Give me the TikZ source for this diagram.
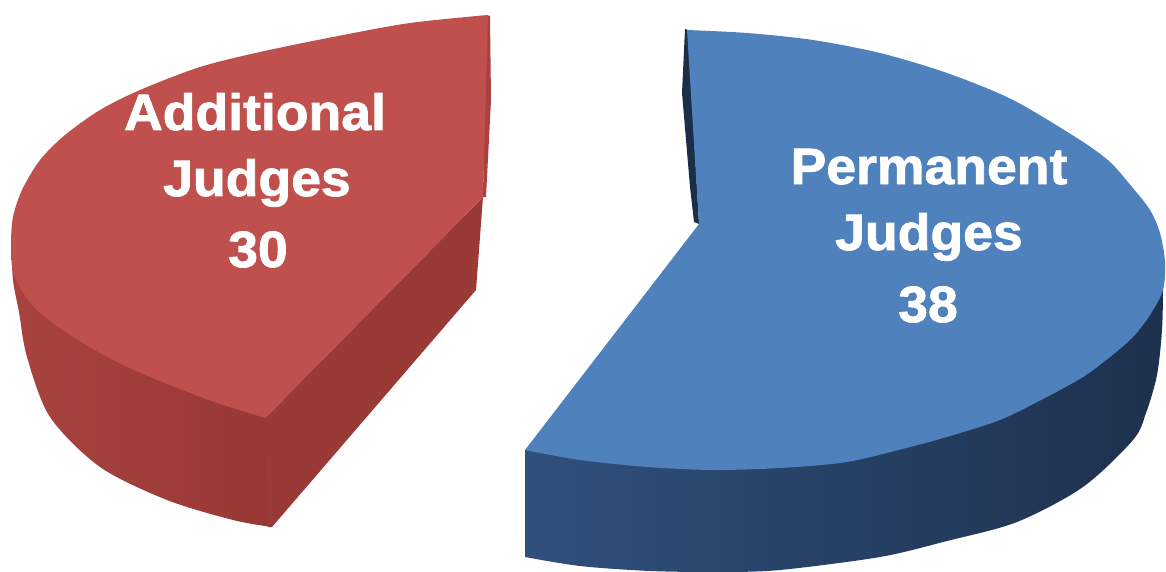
\documentclass[tikz,border=0pt]{standalone}
\usepackage{fontspec}
\setmainfont{Liberation Sans}
\newfontfamily\lblfont[BoldFeatures={FakeBold=1.6}]{Liberation Sans}
\definecolor{redtopc}{HTML}{C0504D}
\definecolor{redwallL}{HTML}{A8433F}
\definecolor{redwallR}{HTML}{973835}
\definecolor{redside}{HTML}{9A3A37}
\definecolor{redstrip}{HTML}{A9423F}
\definecolor{bluetopc}{HTML}{4F81BD}
\definecolor{bluewallL}{HTML}{30507C}
\definecolor{bluewallR}{HTML}{1D314D}
\definecolor{bluestrip}{HTML}{1B2E48}
\newcommand\lbltxt[1]{\scalebox{1.05}[1]{#1}}
\begin{document}
\begin{tikzpicture}[x=1pt,y=-1pt,
  redtop/.style={fill=redtopc},
  redwall/.style={left color=redwallL,right color=redwallR},
  redrad/.style={fill=redside},
  bluetop/.style={fill=bluetopc},
  bluewall/.style={left color=bluewallL,right color=bluewallR},
  lbl/.style={text=white,anchor=base,inner sep=0pt,font=\fontsize{51}{60}\lblfont\bfseries}]
\useasboundingbox (0,0) rectangle (1166,572);

% ---------- red slice ----------
\path[redwall] (11,240) -- (267,418) -- (272,527)
  -- plot[smooth] coordinates {(272,527) (233,520) (167,500) (100,467) (50,417) (27,357) (19,312) (13,280) (11,240)} -- cycle;
\path[redrad] (264,419) -- (483,197) -- (476,290) -- (272,527) -- (268,527) -- cycle;
\path[fill=redstrip] (486,15) -- (490,16) -- (491,100) -- (486,197) -- (483,197) -- cycle;
\path[redtop] plot[smooth] coordinates {(488,15) (410,23) (333,37) (260,52) (200,67) (140,90) (100,110) (65,135) (40,160) (22,190) (13,217) (11,245) (13,272) (22,291) (35,308) (57,326) (83,343) (115,361) (150,377) (185,391) (217,403) (265,418)} -- (483,197) -- cycle;

% ---------- blue slice ----------
\path[bluewall] (525,450) -- (1163,290)
  -- plot[smooth] coordinates {(1163,290) (1162,330) (1157,375) (1146,413) (1133,440) (1083,487) (1017,522) (947,541) (880,557) (780,570) (720,572) (650,571) (580,566) (525,557)} -- cycle;
\path[fill=bluestrip] (685,29) -- (688,30) -- (699,224) -- (694,222) -- (690,187) -- (682,93) -- cycle;
\path[bluetop] plot[smooth] coordinates {(687,30) (747,33) (813,40) (880,53) (947,73) (1013,100) (1080,140) (1110,162) (1132,187) (1150,210) (1160,233) (1165,262) (1163,290) (1150,315) (1133,337) (1110,357) (1083,377) (1043,399) (1000,420) (950,436) (910,447) (847,462) (780,468) (713,470) (647,467) (580,460) (525,450)} -- (699,224) -- cycle;

% ---------- labels ----------
\node[lbl] (a1) at (255,130) {\lbltxt{Additional}};
\node[lbl] (a2) at (257,196) {\lbltxt{Judges}};
\node[lbl] (a3) at (258,267) {\lbltxt{30}};
\node[lbl] (p1) at (929,184) {\lbltxt{Permanent}};
\node[lbl] (p2) at (929,250) {\lbltxt{Judges}};
\node[lbl] (p3) at (928,322) {\lbltxt{38}};
\end{tikzpicture}
\end{document}
